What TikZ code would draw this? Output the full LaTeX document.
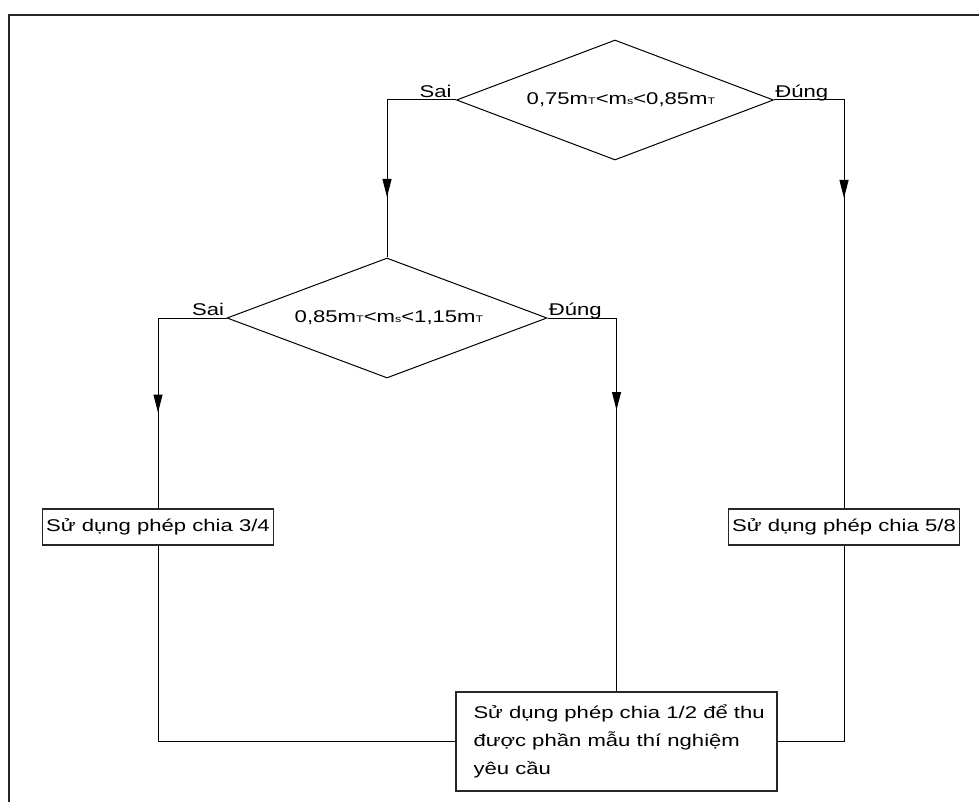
\documentclass[tikz,border=0pt]{standalone}
\usepackage{fontspec}
\setmainfont{Liberation Sans}[FakeStretch=1.3]
\usetikzlibrary{positioning,arrows.meta,shapes.geometric,decorations.markings}
\newcommand{\lowsub}[1]{{\fontsize{4.8pt}{5pt}\selectfont #1}}
\newcommand{\mT}{m\lowsub{T}}
\newcommand{\ms}{m\lowsub{s}}
\tikzset{
  every node/.style={font=\fontsize{8.5pt}{14pt}\selectfont},
  test/.style={draw, diamond, shape aspect=2.6, line width=0.5pt, inner sep=0pt,
               minimum height=60pt},
  action/.style={draw=black!85, line width=0.6pt, inner sep=2pt, align=left},
  answer/.style={inner sep=0pt},
  flow/.style={line width=0.5pt, postaction={decorate, decoration={markings,
     mark=at position #1 with {\arrow{Triangle[length=9pt,width=4.5pt]}}}}},
  backline/.style={line width=0.5pt},
}

\begin{document}
\begin{tikzpicture}[x=0.5pt, y=-0.5pt]
\useasboundingbox (0,0) rectangle (979,802);

% ---------------------------------------------------------------- the frame
\draw[line width=0.8pt, black!85] (9,802) -- (9,15) -- (979,15);

% ------------------------------------------------------------- the two tests
\node[test, minimum width=158.5pt] (test1) at (615,100) {\hspace{6pt}0,75\mT<\ms<0,85\mT};
\node[test, minimum width=160pt] (test2) at (387,318) {\hspace{2pt}0,85\mT<\ms<1,15\mT};

\node[answer, anchor=base east] (no1) at ([xshift=-2pt, yshift=1pt]test1.west) {Sai};
\node[answer, anchor=base west] (yes1) at ([xshift=0.5pt, yshift=1pt]test1.east) {Đúng};
\node[answer, anchor=base east] (no2) at ([xshift=-1pt, yshift=1.5pt]test2.west) {Sai};
\node[answer, anchor=base west] (yes2) at ([xshift=0.5pt, yshift=1.5pt]test2.east) {Đúng};

% ----------------------------------------------------------- the divisions
\node[action, minimum width=115pt, minimum height=18pt] (split34) at (158,527)
  {Sử dụng phép chia 3/4};
\node[action, minimum width=115pt, minimum height=18pt] (split58) at (844,527)
  {Sử dụng phép chia 5/8};
\node[action, minimum width=160.5pt, minimum height=49.5pt] (split12) at (616.5,741.5)
  {\hspace{3pt}\parbox{146pt}{Sử dụng phép chia 1/2 để thu\\được phần mẫu thí nghiệm\\yêu cầu}};

% ------------------------------------------------------------ the branches
\draw[flow=83pt] (test1.west) -| (test2.north);
\draw[flow=84pt] (test1.east) -| (split58.north);
\draw[flow=81.5pt] (test2.west) -| (split34.north);
\draw[flow=80.5pt] (test2.east) -| (split12.north);

% ---------------------------------------------------- back to the last step
\draw[backline] (split34.south) |- (split12.west);
\draw[backline] (split58.south) |- (split12.east);

\end{tikzpicture}
\end{document}
